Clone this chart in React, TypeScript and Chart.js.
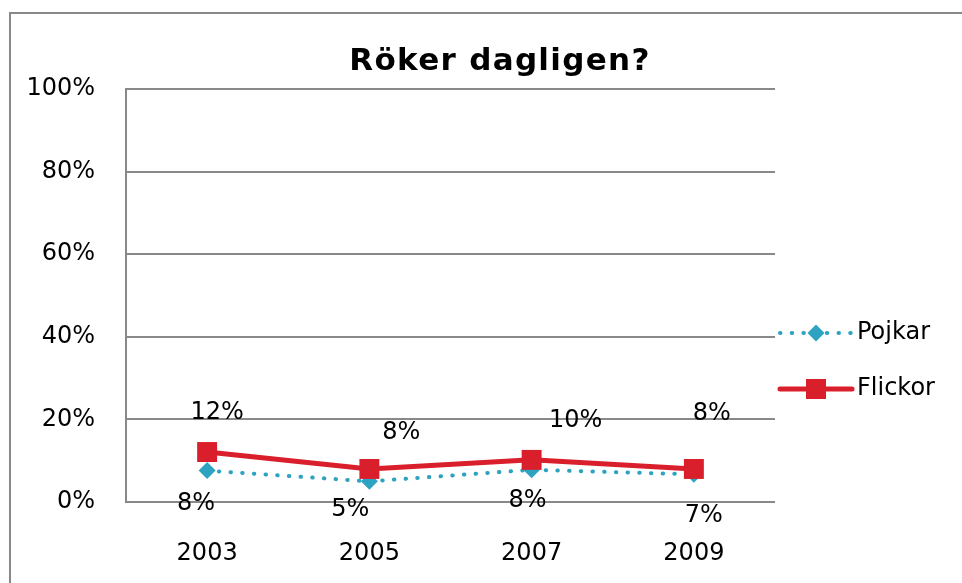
import React, { useEffect, useRef } from "react";
import { Chart, registerables } from "chart.js";

Chart.register(...registerables);

// ---- data ----
const categories = ["2003", "2005", "2007", "2009"];
const seriesNames = ["Pojkar", "Flickor"];
const pojkarValues = [7.6, 5.0, 7.8, 6.7];
const flickorValues = [12.1, 8.0, 10.2, 8.0];
const pojkarLabels = ["8%", "5%", "8%", "7%"];
const flickorLabels = ["12%", "8%", "10%", "8%"];
const yMin = 0;
const yMax = 100;
const yStep = 20;
const chartTitle = "Röker dagligen?";

// ---- styles ----
const TEAL = "#2EA3C1";
const RED = "#D91F2B";
const GRID = "#898989";
const TICK_FONT = { family: "'DejaVu Sans', sans-serif", size: 24 };
// manual nudges of the data labels relative to their point (as in the source)
const pojkarLabelDx = [-11, -19, -4, 10];
const pojkarLabelDy = [33, 28, 31, 41];
const flickorLabelDx = [10, 32, 44, 18];
const flickorLabelDy = [-39, -36, -39, -55];

const decorPlugin = {
  id: "decor",
  beforeDraw(chart: any) {
    const ctx = chart.ctx;
    ctx.save();
    ctx.fillStyle = "#fff";
    ctx.fillRect(0, 0, chart.width, chart.height);
    ctx.strokeStyle = GRID;
    ctx.lineWidth = 2;
    ctx.strokeRect(10, 13, chart.width + 20, chart.height + 20);
    ctx.restore();
  },
  afterDraw(chart: any) {
    const ctx = chart.ctx;
    ctx.save();
    // title
    ctx.fillStyle = "#000";
    ctx.font = "bold 31px 'DejaVu Sans', sans-serif";
    ctx.textAlign = "center";
    ctx.textBaseline = "alphabetic";
    try {
      (ctx as any).letterSpacing = "1.3px";
    } catch (e) {}
    ctx.fillText(chartTitle, 500, 70);
    try {
      (ctx as any).letterSpacing = "0px";
    } catch (e) {}

    // data labels
    ctx.textBaseline = "middle";
    ctx.font = `${TICK_FONT.size}px ${TICK_FONT.family}`;
    const drawLabels = (dsIndex: number, labels: string[], dx: number[], dy: number[]) => {
      const meta = chart.getDatasetMeta(dsIndex);
      meta.data.forEach((pt: any, i: number) => {
        ctx.fillText(labels[i], pt.x + dx[i], pt.y + dy[i]);
      });
    };
    drawLabels(0, pojkarLabels, pojkarLabelDx, pojkarLabelDy);
    drawLabels(1, flickorLabels, flickorLabelDx, flickorLabelDy);

    // legend
    const lx0 = chart.chartArea.right + 5;
    const lx1 = lx0 + 72;
    const mid = (lx0 + lx1) / 2;
    const rows = [333, 389];
    // Pojkar
    ctx.strokeStyle = TEAL;
    ctx.lineWidth = 4;
    ctx.lineCap = "round";
    ctx.setLineDash([0.5, 11.2]);
    ctx.beginPath();
    ctx.moveTo(lx0, rows[0]);
    ctx.lineTo(lx1, rows[0]);
    ctx.stroke();
    ctx.setLineDash([]);
    ctx.fillStyle = TEAL;
    ctx.beginPath();
    const r = 8.5;
    ctx.moveTo(mid, rows[0] - r);
    ctx.lineTo(mid + r, rows[0]);
    ctx.lineTo(mid, rows[0] + r);
    ctx.lineTo(mid - r, rows[0]);
    ctx.closePath();
    ctx.fill();
    // Flickor
    ctx.strokeStyle = RED;
    ctx.lineWidth = 5;
    ctx.lineCap = "round";
    ctx.beginPath();
    ctx.moveTo(lx0, rows[1]);
    ctx.lineTo(lx1, rows[1]);
    ctx.stroke();
    ctx.fillStyle = RED;
    ctx.fillRect(mid - 10, rows[1] - 10, 20, 20);
    // legend text
    ctx.fillStyle = "#000";
    ctx.textAlign = "left";
    ctx.font = `${TICK_FONT.size}px ${TICK_FONT.family}`;
    ctx.fillText(seriesNames[0], lx1 + 5, rows[0]);
    ctx.fillText(seriesNames[1], lx1 + 5, rows[1]);
    ctx.restore();
  },
};

export default function App() {
  const ref = useRef<HTMLCanvasElement | null>(null);
  useEffect(() => {
    if (!ref.current) return;
    const chart = new Chart(ref.current, {
      type: "line",
      data: {
        labels: categories,
        datasets: [
          {
            label: seriesNames[0],
            data: pojkarValues,
            borderColor: TEAL,
            backgroundColor: TEAL,
            borderWidth: 4,
            borderDash: [0.5, 11.2],
            borderCapStyle: "round",
            pointStyle: "rectRot",
            pointRadius: 8.5,
            pointBorderWidth: 0,
            pointBackgroundColor: TEAL,
            tension: 0,
            order: 1,
          },
          {
            label: seriesNames[1],
            data: flickorValues,
            borderColor: RED,
            backgroundColor: RED,
            borderWidth: 5,
            pointStyle: "rect",
            pointRadius: 14.1,
            pointBorderWidth: 0,
            pointBackgroundColor: RED,
            tension: 0,
            order: 0,
          },
        ],
      },
      options: {
        animation: false,
        responsive: false,
        maintainAspectRatio: false,
        layout: { padding: { top: 89, right: 187, bottom: 0, left: 0 } },
        plugins: {
          legend: { display: false },
          title: { display: false },
          tooltip: { enabled: false },
        },
        scales: {
          x: {
            type: "category",
            offset: true,
            grid: { display: false, drawTicks: false },
            border: { display: false },
            ticks: { font: TICK_FONT, color: "#000", padding: 37, maxRotation: 0 },
            afterFit: (s: any) => {
              s.height = 81;
            },
          },
          y: {
            min: yMin,
            max: yMax,
            ticks: {
              stepSize: yStep,
              font: TICK_FONT,
              color: "#000",
              padding: 31,
              callback: (v: any) => v + "%",
            },
            grid: { color: GRID, lineWidth: 2, drawTicks: false },
            border: { color: GRID, width: 2 },
            afterFit: (s: any) => {
              s.width = 126;
            },
          },
        },
      },
      plugins: [decorPlugin],
    });
    return () => chart.destroy();
  }, []);
  return (
    <div style={{ position: "fixed", left: 0, top: 0, width: 962, height: 583 }}>
      <canvas ref={ref} width={962} height={583} style={{ display: "block" }} />
    </div>
  );
}
